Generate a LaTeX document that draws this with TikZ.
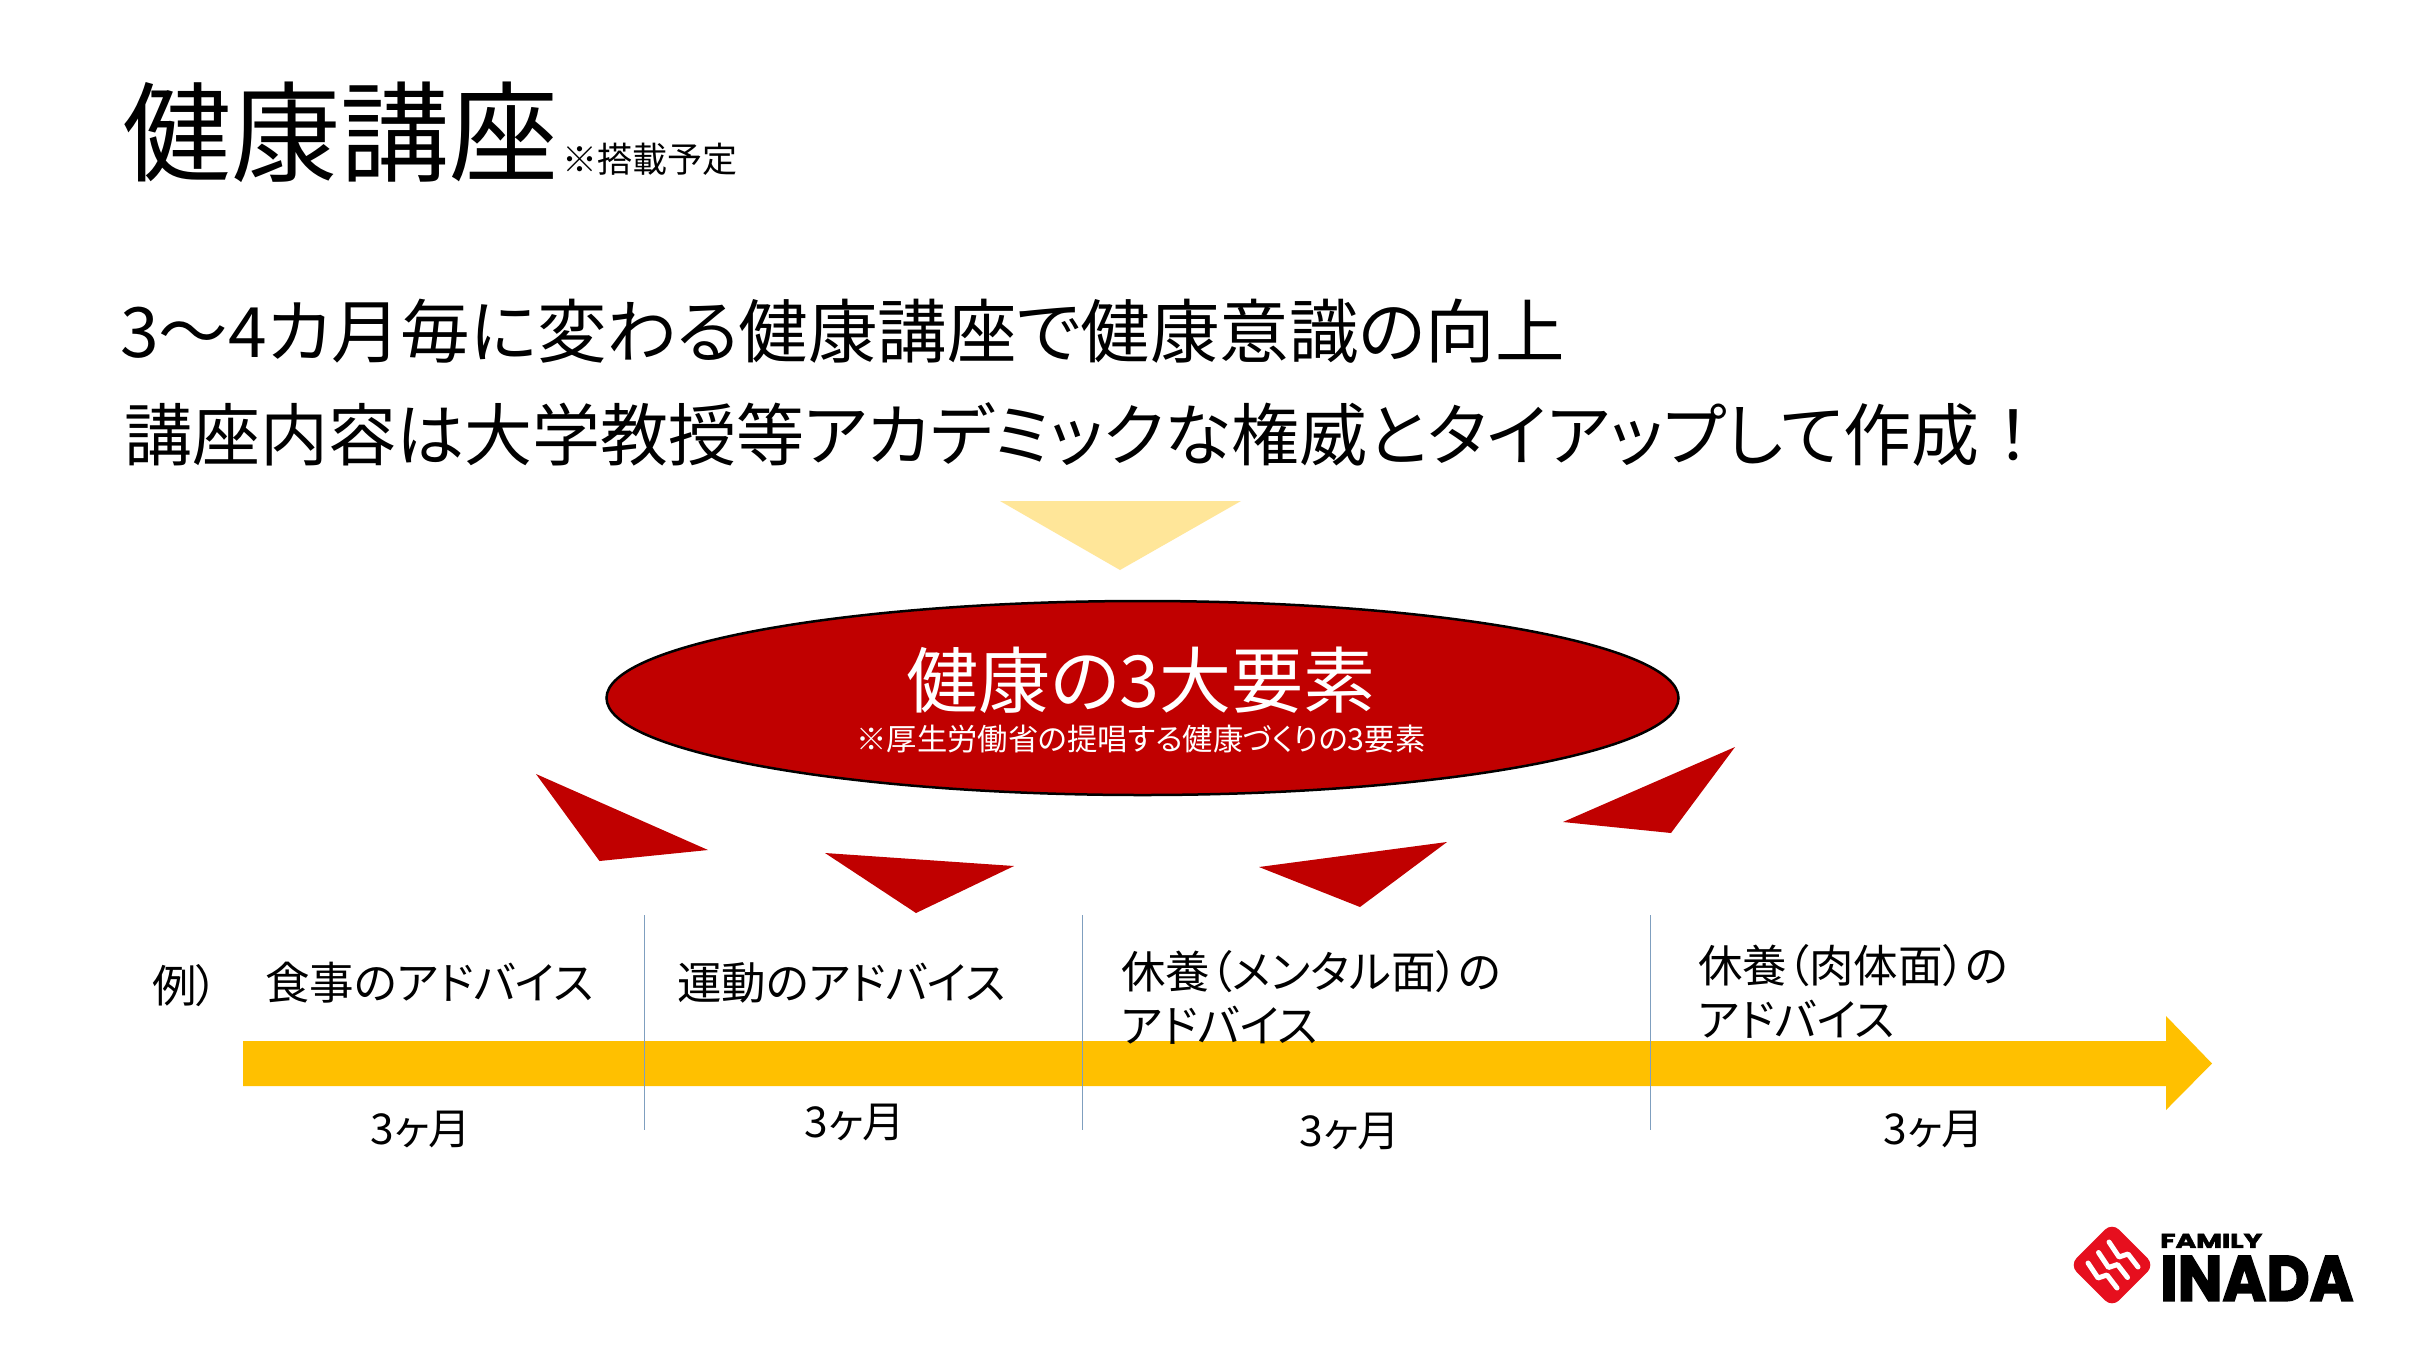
\documentclass[tikz,border=0pt]{standalone}
\usepackage{fontspec}
\usetikzlibrary{shapes.geometric,shapes.arrows}
\setmainfont{Noto Sans CJK JP}[RawFeature={+palt}]
\newfontfamily\logofont{Poppins}[FakeBold=2.5]
\definecolor{deepred}{HTML}{C00000}
\definecolor{amberbar}{HTML}{FFC000}
\definecolor{paleamber}{HTML}{FFE699}
\definecolor{tickblue}{HTML}{7F9FBF}
\definecolor{logored}{HTML}{E60F1E}
\newcommand{\fpx}[2]{\fontsize{#1}{#2}\selectfont}
\tikzset{
  txt/.style={anchor=west,inner sep=0pt,outer sep=0pt,text=black,align=left},
  ctxt/.style={anchor=center,inner sep=0pt,outer sep=0pt,text=black,align=center,font=\fpx{42.5}{46}},
  wtxt/.style={anchor=center,inner sep=0pt,outer sep=0pt,text=white,align=center},
  lbl/.style={txt,font=\fpx{44.5}{54}},
  redtri/.style={fill=deepred,draw=none},
  tick/.style={draw=tickblue,line width=0.9pt},
  strand/.style={draw=white,line width=5pt,line cap=round,line join=round},
}
\begin{document}
\begin{tikzpicture}[x=1pt,y=-1pt]
\useasboundingbox (0,0) rectangle (2414,1358);
\fill[white] (0,0) rectangle (2414,1358);
% titles
\node[txt,font=\fpx{109}{120}] (title) at (122,132) {健康講座};
\node[txt,font=\fpx{35}{40}] (note) at (562,159) {※搭載予定};
\node[txt,font=\fpx{69.5}{76}] (line1) at (120,331) {3～4カ月毎に変わる健康講座で健康意識の向上};
\node[txt,font=\fpx{68}{76}] (line2) at (124,434) {講座内容は大学教授等アカデミックな権威とタイアップして作成\hspace{16pt}！};
% triangles
\fill[paleamber] (1000,501) -- (1241,501) -- (1120,570) -- cycle;
\fill[redtri] (536,774) -- (708,850) -- (599.5,861) -- cycle;
\fill[redtri] (825,853) -- (1014,866) -- (916,913) -- cycle;
\fill[redtri] (1259,867) -- (1447,842) -- (1360,907) -- cycle;
\fill[redtri] (1735,747) -- (1563,822) -- (1671,833) -- cycle;
% ellipse
\node[ellipse,fill=deepred,draw=black,line width=2.5pt,minimum width=1072pt,minimum height=194pt,inner sep=0pt] (oval) at (1142.5,698) {};
\node[wtxt,font=\fpx{72}{80}] (ovaltitle) at (1141,680) {健康の3大要素};
\node[wtxt,font=\fpx{30.3}{34}] (ovalsub) at (1141,739) {※厚生労働省の提唱する健康づくりの3要素};
% timeline arrow
\fill[amberbar] (243,1041) -- (2166,1041) -- (2166,1016) -- (2212,1063.5) -- (2166,1110) -- (2166,1086) -- (243,1086) -- cycle;
\coordinate (t1a) at (644,915); \coordinate (t1b) at (644,1130);
\coordinate (t2a) at (1082,915); \coordinate (t2b) at (1082,1130);
\coordinate (t3a) at (1650,915); \coordinate (t3b) at (1650,1130);
\draw[tick] (t1a) -- (t1b);
\draw[tick] (t2a) -- (t2b);
\draw[tick] (t3a) -- (t3b);
% labels
\node[lbl] (ex) at (152,986) {例）};
\node[lbl] (a1) at (265,983) {食事のアドバイス};
\node[lbl] (a2) at (677,983) {運動のアドバイス};
\node[lbl] (a3) at (1121,997) {休養（メンタル面）の\\アドバイス};
\node[lbl] (a4) at (1698,991) {休養（肉体面）の\\アドバイス};
\node[ctxt] (m1) at (421,1129) {3ヶ月};
\node[ctxt] (m2) at (855,1122) {3ヶ月};
\node[ctxt] (m3) at (1350,1131) {3ヶ月};
\node[ctxt] (m4) at (1934,1129) {3ヶ月};
% logo
\node[rectangle,fill=logored,rotate=45,minimum size=60pt,rounded corners=10pt,inner sep=0pt] (mark) at (2112,1265) {};
\foreach \dx/\dy in {0/0,10.5/-10.5,21/-21}{
  \draw[strand,shift={(\dx,\dy)}] (2088,1263) -- (2098,1278) -- (2107,1275) -- (2117,1288);
}
\node[anchor=south west,inner sep=0pt,text=black,xscale=1.4,transform shape,font=\logofont\bfseries\fpx{20}{24}] (family) at (2160,1248) {FAMILY};
\node[anchor=south west,inner sep=0pt,text=black,xscale=0.93,transform shape,font=\logofont\bfseries\fpx{64}{66}] (inada) at (2160,1301) {INADA};
\end{tikzpicture}
\end{document}
